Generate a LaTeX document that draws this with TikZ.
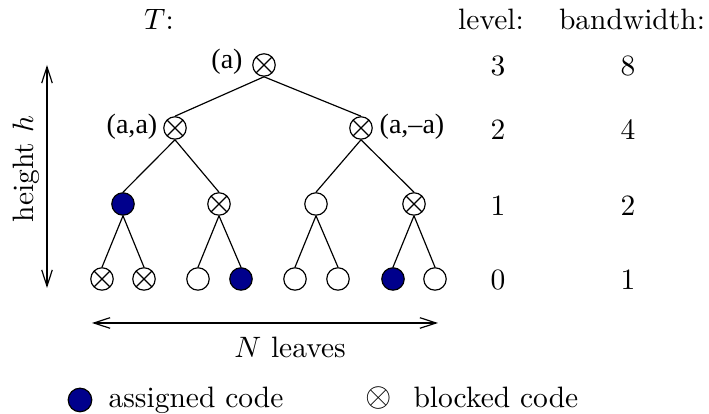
\documentclass[tikz,border=0pt]{standalone}
\usepackage{fontspec}
\newfontfamily\labfont{LiberationSerif-Regular.ttf}
\usetikzlibrary{arrows.meta}
\definecolor{navyfill}{RGB}{0,0,140}
\begin{document}
\begin{tikzpicture}[x=0.339pt,y=-0.339pt,
  nd/.style={circle,draw,line width=0.4pt,minimum size=7.6pt,inner sep=0pt},
  blk/.style={nd,path picture={
     \draw[line width=0.4pt] ([shift={(45:3.8pt)}]path picture bounding box.center) -- ([shift={(225:3.8pt)}]path picture bounding box.center);
     \draw[line width=0.4pt] ([shift={(135:3.8pt)}]path picture bounding box.center) -- ([shift={(315:3.8pt)}]path picture bounding box.center);}},
  asg/.style={nd,fill=navyfill},
  edge/.style={line width=0.4pt},
  lab/.style={font=\labfont\fontsize{9.5}{11}\selectfont,inner sep=0pt},
  txt/.style={inner sep=0pt},
  dim/.style={line width=0.4pt,{Straight Barb[length=5.5pt,width=3.6pt]}-{Straight Barb[length=5.5pt,width=3.6pt]}}
]
\useasboundingbox (0,0) rectangle (709,414);
% tree nodes
\node[blk] (root) at (264,65) {};
\node[blk] (L) at (175,128) {};
\node[blk] (R) at (361,128) {};
\node[asg] (LL) at (123,204) {};
\node[blk] (LR) at (219,204) {};
\node[nd]  (RL) at (316,204) {};
\node[blk] (RR) at (414,204) {};
\node[blk] (n1) at (102,279) {};
\node[blk] (n2) at (144,279) {};
\node[nd]  (n3) at (198,279) {};
\node[asg] (n4) at (241,279) {};
\node[nd]  (n5) at (295,279) {};
\node[nd]  (n6) at (338,279) {};
\node[asg] (n7) at (393,279) {};
\node[nd]  (n8) at (435,279) {};
\draw[edge] (root.south) -- (L.north);
\draw[edge] (root.south) -- (R.north);
\draw[edge] (L.south) -- (LL.north);
\draw[edge] (L.south) -- (LR.north);
\draw[edge] (R.south) -- (RL.north);
\draw[edge] (R.south) -- (RR.north);
\draw[edge] (LL.south) -- (n1.north);
\draw[edge] (LL.south) -- (n2.north);
\draw[edge] (LR.south) -- (n3.north);
\draw[edge] (LR.south) -- (n4.north);
\draw[edge] (RL.south) -- (n5.north);
\draw[edge] (RL.south) -- (n6.north);
\draw[edge] (RR.south) -- (n7.north);
\draw[edge] (RR.south) -- (n8.north);
% node labels
\node[lab] (la) at (227,62) {(a)};
\node[lab] (laa) at (132,127) {(a,a)};
\node[lab] (lam) at (412,127) {(a,\textendash a)};
% headers
\node[txt,anchor=base] (hT) at (159,30) {$T$:};
\node[txt,anchor=base] (hlev) at (491,30) {level:};
\node[txt,anchor=base] (hbw) at (632,30) {bandwidth:};
% level numbers
\node[txt] (v3) at (498,66) {3};
\node[txt] (v2) at (498,130) {2};
\node[txt] (v1) at (498,206) {1};
\node[txt] (v0) at (498,280) {0};
\node[txt] (b8) at (628,66) {8};
\node[txt] (b4) at (628,130) {4};
\node[txt] (b2) at (628,206) {2};
\node[txt] (b1) at (628,280) {1};
% height arrow
\coordinate (htop) at (47,65);
\coordinate (hbot) at (47,288);
\draw[dim] (htop) -- (hbot);
\node[txt,rotate=90] (hlab) at (26,169) {height $h$};
% N leaves arrow
\coordinate (nl) at (92,323);
\coordinate (nr) at (438,323);
\draw[dim] (nl) -- (nr);
\node[txt] (nlab) at (290,347) {$N$ leaves};
% legend
\node[circle,draw,line width=0.4pt,fill=navyfill,minimum size=8pt,inner sep=0pt] (lg1) at (80,400) {};
\node[txt,anchor=base west] (lg1t) at (108,408) {assigned code};
\node[txt,scale=1.15] (lg2) at (379,398) {$\otimes$};
\node[txt,anchor=base west] (lg2t) at (413,408) {blocked code};
\end{tikzpicture}
\end{document}
